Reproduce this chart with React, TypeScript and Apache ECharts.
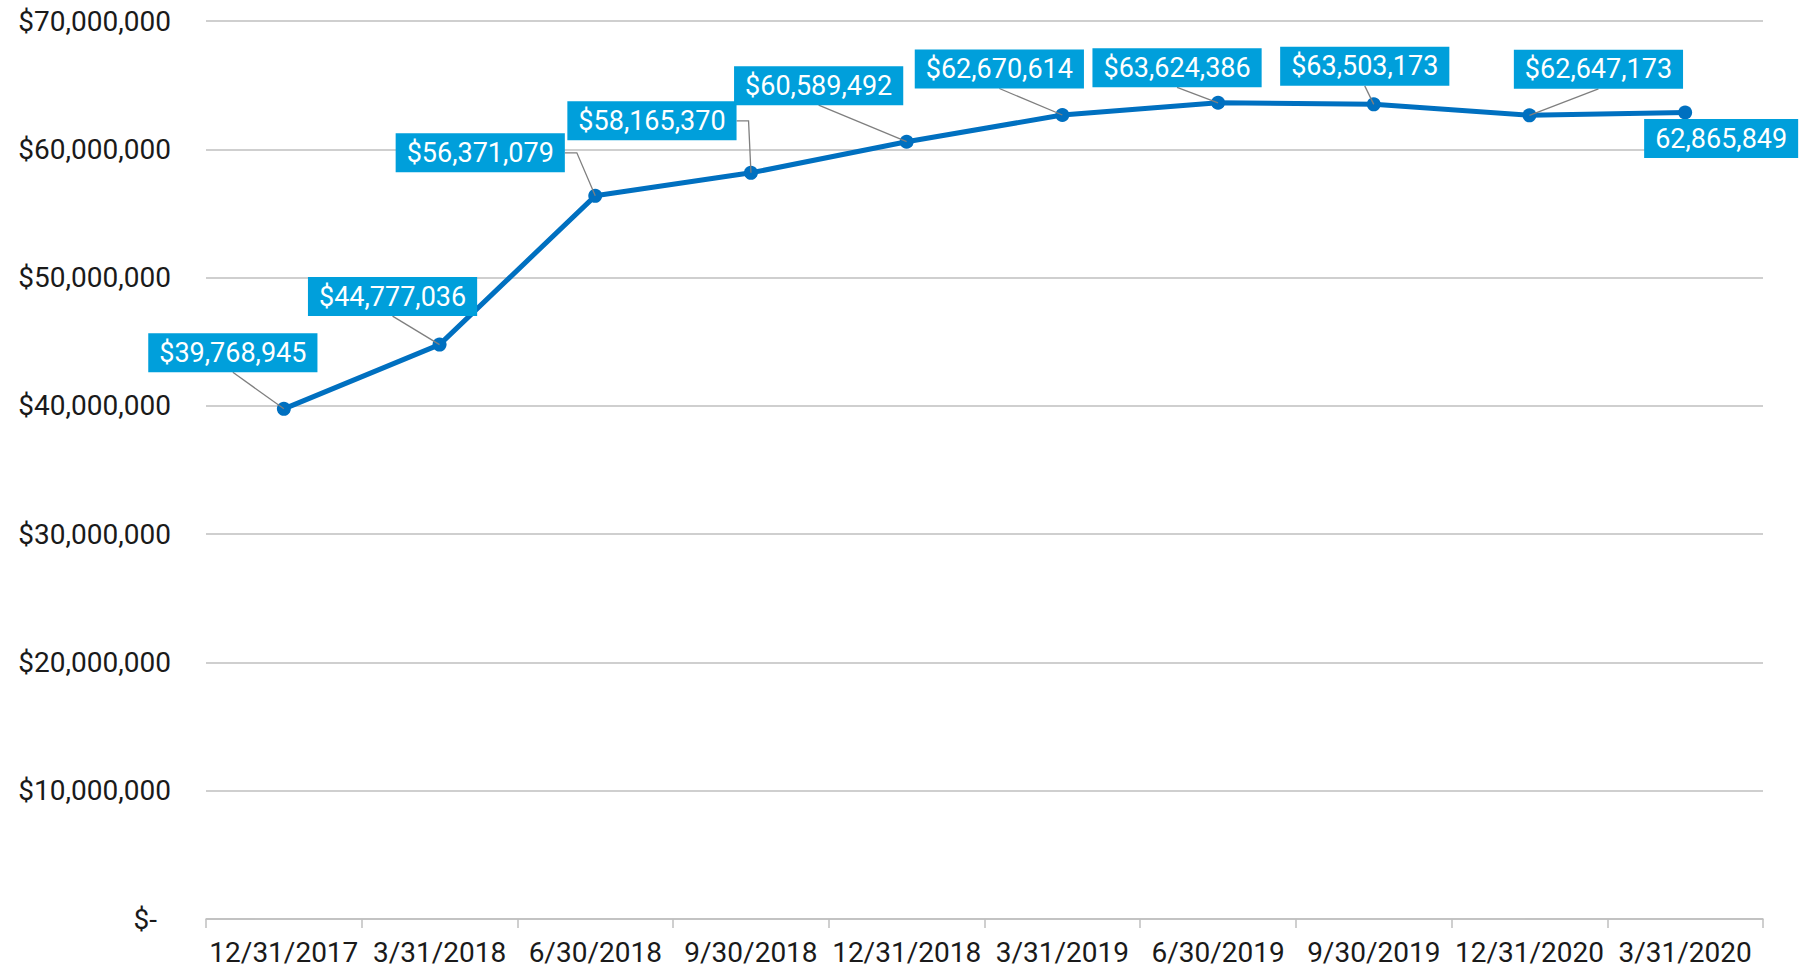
import React, { useEffect, useRef } from 'react';
import * as echarts from 'echarts';

const categories = [
  '12/31/2017', '3/31/2018', '6/30/2018', '9/30/2018', '12/31/2018',
  '3/31/2019', '6/30/2019', '9/30/2019', '12/31/2020', '3/31/2020',
];
const values = [
  39768945, 44777036, 56371079, 58165370, 60589492,
  62670614, 63624386, 63503173, 62647173, 62865849,
];
// the last label in the source has no dollar sign
const labelPrefixes = ['$', '$', '$', '$', '$', '$', '$', '$', '$', ''];
const yMin = 0;
const yMax = 70000000;
const yInterval = 10000000;

// label box placement relative to its point (px) and leader anchor
const labelPlacement: [number, number, string][] = [
  [-51, -56, 'bottom'],
  [-47, -48, 'bottom'],
  [-115, -43, 'right'],
  [-99, -52, 'right'],
  [-88, -56, 'bottom'],
  [-63, -46, 'bottom'],
  [-41, -35, 'bottom'],
  [-9, -38, 'bottom'],
  [69, -46, 'bottom'],
  [36, 26, 'none'],
];

const FONT = 'Roboto';
const AXIS_FS = 28;
const FS = 27;
const TEXT = '#1a1a1a';
const GRID = '#bfbfbf';
const LINE = '#0070c0';
const BOX = '#009fdb';
const LEADER = '#7f7f7f';
const BOX_H = 39;
const PAD_X = 11;
const ELBOW = 12;

const fmt = (v: number) => v.toLocaleString('en-US');

let measureCtx: CanvasRenderingContext2D | null = null;
function measure(text: string): number {
  if (!measureCtx) {
    const c = document.createElement('canvas');
    measureCtx = c.getContext('2d');
  }
  if (!measureCtx) return text.length * FS * 0.55;
  measureCtx.font = `${FS}px ${FONT}`;
  return measureCtx.measureText(text).width;
}

export default function App() {
  const ref = useRef<HTMLDivElement>(null);

  useEffect(() => {
    document.body.style.margin = '0';
    if (!ref.current) return;
    const chart = echarts.init(ref.current, undefined, { renderer: 'svg' });

    const labelTexts = values.map((v, i) => labelPrefixes[i] + fmt(v));

    chart.setOption({
      animation: false,
      backgroundColor: '#ffffff',
      grid: { left: 206, right: 38, top: 21, bottom: 51 },
      xAxis: {
        type: 'category',
        data: categories,
        boundaryGap: true,
        axisLine: { show: true, lineStyle: { color: GRID, width: 1.5 } },
        axisTick: { show: true, length: 9, lineStyle: { color: GRID, width: 1.5 } },
        axisLabel: {
          interval: 0,
          margin: 19,
          fontSize: AXIS_FS,
          fontFamily: FONT,
          color: TEXT,
        },
        splitLine: { show: false },
      },
      yAxis: {
        type: 'value',
        min: yMin,
        max: yMax,
        interval: yInterval,
        axisLine: { show: false },
        axisTick: { show: false },
        splitLine: { show: true, lineStyle: { color: GRID, width: 1.5 } },
        axisLabel: {
          margin: 35,
          fontSize: AXIS_FS,
          fontFamily: FONT,
          color: TEXT,
          formatter: (v: number) => (v === 0 ? '{z|$-}' : '$' + fmt(v)),
          rich: {
            z: { fontSize: AXIS_FS, fontFamily: FONT, color: TEXT, padding: [0, 14, 0, 0] },
          },
        },
      },
      series: [
        {
          type: 'line',
          data: values,
          z: 2,
          symbol: 'circle',
          symbolSize: 14,
          lineStyle: { color: LINE, width: 5 },
          itemStyle: { color: LINE },
          label: { show: false },
        },
        {
          type: 'custom',
          z: 3,
          data: values.map((v, i) => [i, v]),
          encode: { x: 0, y: 1 },
          renderItem: (params: any, api: any) => {
            const i = params.dataIndex;
            const pt = api.coord([api.value(0), api.value(1)]);
            const [dx, dy, anchor] = labelPlacement[i];
            const text = labelTexts[i];
            const w = measure(text) + PAD_X * 2;
            const h = BOX_H;
            const cx = pt[0] + dx;
            const cy = pt[1] + dy;
            const children: any[] = [];
            let pts: number[][] | null = null;
            if (anchor === 'bottom') pts = [[cx, cy + h / 2], [pt[0], pt[1]]];
            else if (anchor === 'right')
              pts = [[cx + w / 2, cy], [cx + w / 2 + ELBOW, cy], [pt[0], pt[1]]];
            if (pts) {
              children.push({
                type: 'polyline',
                shape: { points: pts },
                style: { stroke: LEADER, lineWidth: 1.3, fill: null },
                z2: 0,
              });
            }
            children.push({
              type: 'rect',
              shape: { x: cx - w / 2, y: cy - h / 2, width: w, height: h },
              style: { fill: BOX },
              z2: 1,
            });
            children.push({
              type: 'text',
              x: cx,
              y: cy,
              style: {
                text,
                fill: '#ffffff',
                fontSize: FS,
                fontFamily: FONT,
                align: 'center',
                verticalAlign: 'middle',
              },
              z2: 2,
            });
            return { type: 'group', children };
          },
        },
      ],
    });

    return () => chart.dispose();
  }, []);

  return <div ref={ref} style={{ width: 1801, height: 970 }} />;
}
